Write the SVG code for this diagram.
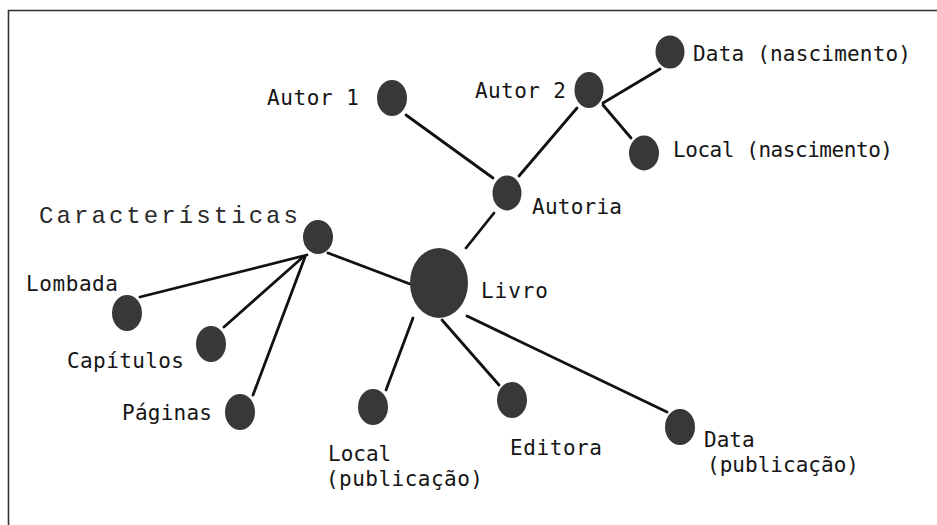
<svg xmlns="http://www.w3.org/2000/svg" width="937" height="525" viewBox="0 0 937 525">
<style>
.n{fill:#383838}
.t{font-family:"DejaVu Sans Mono","Liberation Mono",monospace;font-size:21px;fill:#151515}
.c{font-family:"Liberation Mono","Courier New",monospace;font-size:24px;fill:#2a2a2a}
.e{stroke:#111;stroke-width:2.8;stroke-linecap:round;fill:none}
</style>
<rect x="0" y="0" width="937" height="525" fill="#fff"/>
<path d="M8.5 525V10.5H937" fill="none" stroke="#333" stroke-width="1.6"/>
<g id="connectors" class="e">
<line x1="406" y1="115" x2="493" y2="178"/>
<line x1="519" y1="176" x2="577" y2="108"/>
<line x1="603" y1="103" x2="660" y2="69"/>
<line x1="603" y1="105" x2="631" y2="138"/>
<line x1="466" y1="248" x2="494" y2="213"/>
<line x1="328" y1="253" x2="410" y2="284"/>
<line x1="307" y1="255" x2="140" y2="297"/>
<line x1="303" y1="257" x2="224" y2="327"/>
<line x1="305" y1="257" x2="253" y2="395"/>
<line x1="413" y1="318" x2="386" y2="390"/>
<line x1="442" y1="320" x2="499" y2="385"/>
<line x1="467" y1="316" x2="667" y2="412"/>
</g>
<g id="data-nascimento"><ellipse class="n" cx="670" cy="52" rx="14.5" ry="16.5"/><text class="t" x="693" y="61" textLength="218">Data (nascimento)</text></g>
<g id="autor2"><ellipse class="n" cx="589" cy="90" rx="14.5" ry="18"/><text class="t" x="475" y="98" textLength="91">Autor 2</text></g>
<g id="autor1"><ellipse class="n" cx="392" cy="98" rx="15" ry="18"/><text class="t" x="267" y="105" textLength="92">Autor 1</text></g>
<g id="local-nascimento"><ellipse class="n" cx="644" cy="153" rx="15" ry="17.5"/><text class="t" x="673" y="157" textLength="220">Local (nascimento)</text></g>
<g id="autoria"><ellipse class="n" cx="507" cy="193" rx="14.5" ry="17.5"/><text class="t" x="532" y="214" textLength="90">Autoria</text></g>
<g id="caracteristicas"><ellipse class="n" cx="318" cy="237" rx="15" ry="17"/><text class="c" x="39" y="223" textLength="259">Características</text></g>
<g id="livro"><ellipse class="n" cx="439" cy="283" rx="29" ry="35"/><text class="t" x="481" y="298" textLength="67">Livro</text></g>
<g id="lombada"><ellipse class="n" cx="127" cy="313" rx="15" ry="18"/><text class="t" x="26" y="291" textLength="92">Lombada</text></g>
<g id="capitulos"><ellipse class="n" cx="211" cy="344" rx="15" ry="18"/><text class="t" x="67" y="368" textLength="117">Capítulos</text></g>
<g id="paginas"><ellipse class="n" cx="240" cy="412" rx="15" ry="18"/><text class="t" x="122" y="420" textLength="90">Páginas</text></g>
<g id="local-publicacao"><ellipse class="n" cx="373" cy="407" rx="15" ry="18"/><text class="t" x="328" y="461">Local</text><text class="t" x="326" y="486" textLength="157">(publicação)</text></g>
<g id="editora"><ellipse class="n" cx="512" cy="400" rx="15" ry="18"/><text class="t" x="510" y="455" textLength="92">Editora</text></g>
<g id="data-publicacao"><ellipse class="n" cx="680" cy="427" rx="15" ry="18"/><text class="t" x="704" y="447">Data</text><text class="t" x="707" y="472" textLength="152">(publicação)</text></g>
</svg>
